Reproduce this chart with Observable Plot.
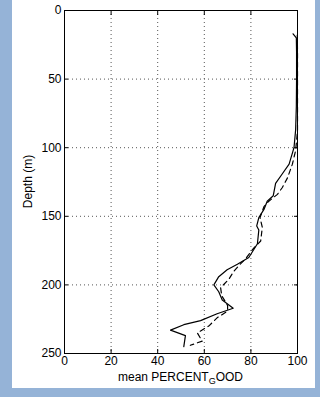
<!DOCTYPE html>
<html>
<head>
<meta charset="utf-8">
<script src="https://cdn.jsdelivr.net/npm/d3@7"></script>
<script src="https://cdn.jsdelivr.net/npm/@observablehq/plot@0.6"></script>
<style>
  html, body { margin: 0; padding: 0; background: #95b3d7; width: 320px; height: 397px; overflow: hidden; }
  #panel { position: absolute; left: 12px; top: 0; width: 303px; height: 388px; background: white; }
</style>
</head>
<body>
<div id="panel"></div>
<script>
const xTicks = [0, 20, 40, 60, 80, 100];
const yTicks = [0, 50, 100, 150, 200, 250];

const depthSolid = [17, 20, 30, 50, 70, 87, 100, 112, 119, 126, 135, 139, 145, 151, 157, 160, 170, 180, 185, 189, 194, 200, 205, 211, 217, 221, 226, 229, 233, 237, 245];
const pctSolid   = [98.1, 99.5, 99.6, 99.6, 99.5, 99.2, 98.5, 96.4, 93.5, 90.6, 89.6, 87, 85.6, 83.4, 82.5, 83.4, 82.8, 79.1, 74.2, 69.8, 66.2, 64.1, 66.2, 67.7, 72.4, 65.5, 58.4, 51.2, 45.5, 51.9, 51.2];

const depthDashed = [18, 30, 50, 70, 88, 102, 112, 122, 129, 134, 139, 143, 151, 158, 168, 173, 181, 186, 190, 196, 202, 208, 215, 219, 224, 230, 235, 241, 244];
const pctDashed   = [99.9, 100, 100, 100, 100, 99.2, 97.8, 95.7, 93.5, 91.4, 87.7, 85.6, 83.9, 84.9, 84.2, 81.3, 77.7, 74.8, 72.7, 70.5, 67, 67.5, 70, 70, 65.5, 61.9, 57, 59.1, 54];

const solid = depthSolid.map((d, i) => ({depth: d, pct: pctSolid[i]}));
const dashed = depthDashed.map((d, i) => ({depth: d, pct: pctDashed[i]}));

const W = 303, H = 388, mL = 52, mR = 18, mT = 10, mB = 35;

const chart = Plot.plot({
  width: W, height: H,
  marginLeft: mL, marginRight: mR, marginTop: mT, marginBottom: mB,
  style: {fontFamily: "'Liberation Sans', Arial, sans-serif", fontSize: "12px", background: "white", color: "black", overflow: "visible"},
  x: {domain: [0, 100]},
  y: {domain: [0, 250], reverse: true},
  marks: [
    Plot.gridX(xTicks, {stroke: "#555", strokeOpacity: 1, strokeDasharray: "1,3"}),
    Plot.gridY(yTicks, {stroke: "#555", strokeOpacity: 1, strokeDasharray: "1,3"}),
    Plot.line(solid, {x: "pct", y: "depth", stroke: "black", strokeWidth: 1.2, curve: "linear"}),
    Plot.line(dashed, {x: "pct", y: "depth", stroke: "black", strokeWidth: 1.2, strokeDasharray: "5,4", curve: "linear"}),
    Plot.axisX(xTicks, {anchor: "bottom", tickSize: 0, tickPadding: 3, label: null, fontSize: 12}),
    Plot.axisY(yTicks, {anchor: "left", tickSize: 0, tickPadding: 3, label: null, fontSize: 12}),
    Plot.axisX(xTicks, {anchor: "bottom", tickSize: -4, text: null, label: null}),
    Plot.axisX(xTicks, {anchor: "top", tickSize: -4, text: null, label: null}),
    Plot.axisY(yTicks, {anchor: "left", tickSize: -4, text: null, label: null}),
    Plot.axisY(yTicks, {anchor: "right", tickSize: -4, text: null, label: null}),
    Plot.frame({stroke: "black", strokeWidth: 1})
  ]
});

const svg = d3.select(chart);
const cx = mL + (W - mL - mR) / 2;
const cy = mT + (H - mT - mB) / 2;

const xl = svg.append("text")
  .attr("x", cx).attr("y", 381)
  .attr("text-anchor", "middle")
  .attr("font-size", 12)
  .attr("fill", "black");
xl.append("tspan").text("mean PERCENT");
xl.append("tspan").attr("dy", 3).attr("font-size", 9).text("G");
xl.append("tspan").attr("dy", -3).text("OOD");

svg.append("text")
  .attr("transform", `translate(20,${cy}) rotate(-90)`)
  .attr("text-anchor", "middle")
  .attr("font-size", 12)
  .attr("fill", "black")
  .text("Depth (m)");

document.getElementById("panel").appendChild(chart);
</script>
</body>
</html>
